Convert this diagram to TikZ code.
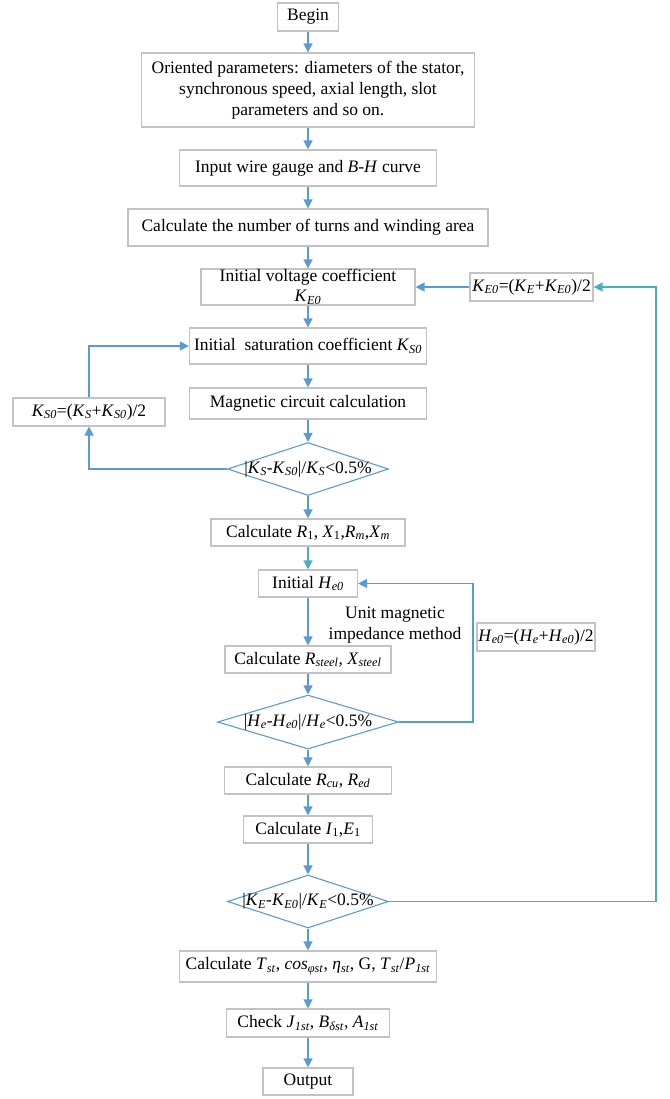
\documentclass[tikz,border=0pt]{standalone}
\usepackage{fontspec}
\setmainfont{Liberation Serif}
\usetikzlibrary{arrows.meta,shapes.geometric}
\definecolor{lineblue}{RGB}{91,155,213}
\definecolor{linecyan}{RGB}{75,172,198}
\definecolor{boxgray}{RGB}{195,195,195}
\newcommand\sbi[1]{\textsubscript{\textit{#1}}}
\newcommand\sbr[1]{\textsubscript{#1}}
\begin{document}
\begin{tikzpicture}[x=1pt,y=-1pt,
  font=\fontsize{17.5}{21}\selectfont,
  box/.style={draw=boxgray,line width=1.2pt,inner sep=0pt,align=center},
  dia/.style={draw=lineblue,line width=1.1pt,diamond,inner sep=0pt,aspect=3},
  arr/.style={draw=lineblue,line width=1.4pt,-{Triangle[width=9pt,length=9pt]}},
  arrc/.style={arr,draw=linecyan}]
\useasboundingbox (0,0) rectangle (669,1099);
\node[box,minimum width=61pt,minimum height=28pt] (begin) at (308,17) {Begin};
\node[box,minimum width=333pt,minimum height=74pt] (orient) at (308,90) {Oriented parameters: diameters of the stator,\\ synchronous speed, axial length, slot\\ parameters and so on.};
\node[box,minimum width=257pt,minimum height=36pt] (input) at (308,168) {Input wire gauge and \textit{B-H} curve};
\node[box,minimum width=360pt,minimum height=37pt] (turns) at (308,227.5) {Calculate the number of turns and winding area};
\node[box,minimum width=214pt,minimum height=36pt] (ve) at (308,287) {Initial voltage coefficient\\[-1pt]\textit{K}\sbi{E0}};
\node[box,minimum width=123pt,minimum height=28pt] (ke) at (531.5,287) {\textit{K}\sbi{E0}=(\textit{K}\sbi{E}+\textit{K}\sbi{E0})/2};
\node[box,minimum width=237pt,minimum height=36pt] (sat) at (308,346) {Initial~ saturation coefficient \textit{K}\sbi{S0}};
\node[box,minimum width=237pt,minimum height=31pt] (mag) at (308,403.5) {Magnetic circuit calculation};
\node[box,minimum width=152pt,minimum height=28pt] (ks) at (89,412) {\textit{K}\sbi{S0}=(\textit{K}\sbi{S}+\textit{K}\sbi{S0})/2};
\node[dia,minimum width=161pt,minimum height=53pt] (d1) at (308,469) {\makebox[0pt]{|\textit{K}\sbi{S}-\textit{K}\sbi{S0}|/\textit{K}\sbi{S}<0.5\%}};
\node[box,minimum width=194pt,minimum height=27pt] (r1) at (308,532.5) {Calculate \textit{R}\sbr{1}, \textit{X}\sbr{1},\textit{R}\sbi{m},\textit{X}\sbi{m}};
\node[box,minimum width=99pt,minimum height=27pt] (he) at (308,583.5) {Initial \textit{H}\sbi{e0}};
\node[align=center,inner sep=0pt] (umi) at (395,625) {Unit magnetic\\impedance method};
\node[box,minimum width=118pt,minimum height=28pt] (hebox) at (536,637) {\textit{H}\sbi{e0}=(\textit{H}\sbi{e}+\textit{H}\sbi{e0})/2};
\node[box,minimum width=166pt,minimum height=27pt] (rst) at (308,659.5) {Calculate \textit{R}\sbi{steel}, \textit{X}\sbi{steel}};
\node[dia,minimum width=181pt,minimum height=54pt] (d2) at (308,722) {\makebox[0pt]{|\textit{H}\sbi{e}-\textit{H}\sbi{e0}|/\textit{H}\sbi{e}<0.5\%}};
\node[box,minimum width=167pt,minimum height=27pt] (rcu) at (308,780.5) {Calculate \textit{R}\sbi{cu}, \textit{R}\sbi{ed}};
\node[box,minimum width=129pt,minimum height=27pt] (ie) at (308,829.5) {Calculate \textit{I}\sbr{1},\textit{E}\sbr{1}};
\node[dia,minimum width=161pt,minimum height=53pt] (d3) at (308,901.5) {\makebox[0pt]{|\textit{K}\sbi{E}-\textit{K}\sbi{E0}|/\textit{K}\sbi{E}<0.5\%}};
\node[box,minimum width=257pt,minimum height=31pt] (tst) at (308,966.5) {Calculate \textit{T}\sbi{st}, \textit{cos}\sbi{φst}, \textit{η}\sbi{st}, G, \textit{T}\sbi{st}/\textit{P}\sbi{1st}};
\node[box,minimum width=163pt,minimum height=28pt] (chk) at (308,1023) {Check \textit{J}\sbi{1st}, \textit{B}\sbi{δst}, \textit{A}\sbi{1st}};
\node[box,minimum width=90pt,minimum height=27pt] (out) at (308,1081.5) {Output};
\coordinate (c2) at (473,0);
\coordinate (c3) at (656,0);
\draw[arr] (begin) -- (orient);
\draw[arr] (orient) -- (input);
\draw[arr] (input) -- (turns);
\draw[arr] (turns) -- (ve);
\draw[arr] (ve) -- (sat);
\draw[arr] (sat) -- (mag);
\draw[arr] (mag) -- (d1);
\draw[arr] (d1) -- (r1);
\draw[arrc] (r1) -- (he);
\draw[arr] (he) -- (rst);
\draw[arr] (rst) -- (d2);
\draw[arr] (d2) -- (rcu);
\draw[arr] (rcu) -- (ie);
\draw[arr] (ie) -- (d3);
\draw[arr] (d3) -- (tst);
\draw[arr] (tst) -- (chk);
\draw[arr] (chk) -- (out);
\draw[arr] (d1.west) -| (ks.south);
\draw[arr] (ks.north) |- (sat.west);
\draw[arr] (d2.east) -- (d2.east -| c2) |- (he.east);
\draw[arrc] (d3.east) -- (d3.east -| c3) |- (ke.east);
\draw[arr] (ke) -- (ve);
\end{tikzpicture}
\end{document}
